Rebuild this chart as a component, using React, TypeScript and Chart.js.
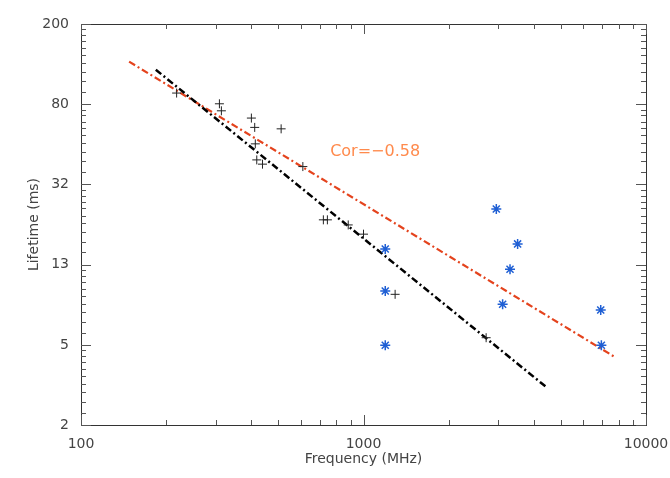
import React, { useRef, useEffect } from 'react';
import { Chart, registerables } from 'chart.js';

Chart.register(...registerables);

// axis ticks
const xTickValues = [100, 1000, 10000];
const xTickLabels = ['100', '1000', '10000'];
const yTickValues = [2, 5.02, 12.62, 31.7, 79.62, 200];
const yTickLabels = ['2', '5', '13', '32', '80', '200'];

// plus markers
const plusFreq = [218, 309, 314, 401, 412, 511, 414, 419, 439, 610, 721, 745, 883, 1000, 1294, 2717];
const plusLife = [90.5, 80, 73.8, 67.9, 61, 60, 50.5, 42, 40, 38.9, 21.1, 21.1, 19.9, 17.9, 8.97, 5.45];

// asterisk markers
const starFreq = [1194, 1194, 1194, 2952, 3512, 3301, 3108, 6914, 6950];
const starLife = [15.1, 9.32, 5.0, 23.9, 16.0, 11.96, 8.0, 7.49, 5.0];

// fitted lines (end points)
const fitAllFreq = [148, 7834];
const fitAllLife = [129.8, 4.33];
const fitPlusFreq = [184, 4426];
const fitPlusLife = [118.3, 3.1];

// annotation
const corText = 'Cor=\u22120.58';
const corFreq = 762;
const corLife = 46.1;

const FONT = 'DejaVu Sans';
const TEXT = '#444';

const toPoints = (xs: number[], ys: number[]) => xs.map((x, i) => ({ x, y: ys[i] }));

// IDL style frame: box with inward ticks on all four sides
const framePlugin = {
  id: 'frame',
  afterDraw(chart: any) {
    const { ctx, chartArea, scales } = chart;
    const { left, right, top, bottom } = chartArea;
    const x = scales.x;
    const y = scales.y;
    ctx.save();
    ctx.lineWidth = 1;
    ctx.strokeStyle = '#333';
    ctx.strokeRect(left + 0.5, top + 0.5, right - left, bottom - top);

    ctx.strokeStyle = '#555';
    const seg = (x1: number, y1: number, x2: number, y2: number) => {
      ctx.beginPath();
      ctx.moveTo(x1, y1);
      ctx.lineTo(x2, y2);
      ctx.stroke();
    };
    const xTick = (v: number, len: number) => {
      const px = Math.round(x.getPixelForValue(v)) + 0.5;
      seg(px, bottom, px, bottom - len);
      seg(px, top, px, top + len);
    };
    const yTick = (v: number, len: number) => {
      const py = Math.round(y.getPixelForValue(v)) + 0.5;
      seg(left, py, left + len, py);
      seg(right, py, right - len, py);
    };

    xTickValues.forEach((v, i) => {
      xTick(v, 10);
      if (i < xTickValues.length - 1) {
        for (let k = 2; k <= 9; k++) xTick(v * k, 5);
      }
    });
    yTickValues.forEach((v, i) => {
      yTick(v, 10);
      if (i < yTickValues.length - 1) {
        const next = yTickValues[i + 1];
        for (let k = 1; k <= 9; k++) yTick(v + ((next - v) * k) / 10, 5);
      }
    });

    ctx.fillStyle = '#ff8a4c';
    ctx.font = `16px "${FONT}"`;
    ctx.textAlign = 'left';
    ctx.textBaseline = 'middle';
    ctx.fillText(corText, x.getPixelForValue(corFreq), y.getPixelForValue(corLife));
    ctx.restore();
  },
};

const App: React.FC = () => {
  const canvasRef = useRef<HTMLCanvasElement>(null);
  const chartRef = useRef<Chart | null>(null);

  useEffect(() => {
    document.body.style.margin = '0';
    if (!canvasRef.current) return;
    if (chartRef.current) chartRef.current.destroy();

    chartRef.current = new Chart(canvasRef.current, {
      type: 'scatter',
      data: {
        datasets: [
          {
            label: 'plus',
            data: toPoints(plusFreq, plusLife),
            pointStyle: 'cross',
            pointRadius: 4.5,
            borderColor: '#222',
            backgroundColor: '#222',
            pointBorderWidth: 1,
          },
          {
            label: 'star',
            data: toPoints(starFreq, starLife),
            pointStyle: 'star',
            pointRadius: 5,
            borderColor: '#1f5fd4',
            backgroundColor: '#1f5fd4',
            pointBorderWidth: 1.5,
          },
          {
            label: 'fit plus',
            data: toPoints(fitPlusFreq, fitPlusLife),
            showLine: true,
            pointRadius: 0,
            borderColor: '#000',
            borderWidth: 2.5,
            borderDash: [7, 3, 2, 3],
          },
          {
            label: 'fit all',
            data: toPoints(fitAllFreq, fitAllLife),
            showLine: true,
            pointRadius: 0,
            borderColor: '#e4431d',
            borderWidth: 2.2,
            borderDash: [7, 3, 2, 3],
          },
        ],
      },
      options: {
        responsive: false,
        animation: false,
        layout: { padding: { top: 24, right: 24, left: 0, bottom: 0 } },
        plugins: {
          legend: { display: false },
          tooltip: { enabled: false },
        },
        scales: {
          x: {
            type: 'logarithmic',
            min: 100,
            max: 10000,
            grid: { display: false },
            border: { display: false },
            afterBuildTicks: (s: any) => {
              s.ticks = xTickValues.map((v) => ({ value: v }));
            },
            afterFit: (s: any) => {
              s.height = 53;
              s.paddingLeft = 0;
              s.paddingRight = 0;
            },
            ticks: {
              autoSkip: false,
              maxRotation: 0,
              padding: 3,
              color: TEXT,
              font: { family: FONT, size: 14 },
              callback: (_v: any, i: number) => xTickLabels[i],
            },
            title: {
              display: true,
              text: 'Frequency (MHz)',
              color: TEXT,
              font: { family: FONT, size: 14 },
              padding: { top: 0, bottom: 10 },
            },
          },
          y: {
            type: 'logarithmic',
            min: 2,
            max: 200,
            grid: { display: false },
            border: { display: false },
            afterBuildTicks: (s: any) => {
              s.ticks = yTickValues.map((v) => ({ value: v }));
            },
            afterFit: (s: any) => {
              s.width = 81;
              s.paddingTop = 0;
              s.paddingBottom = 0;
            },
            ticks: {
              autoSkip: false,
              padding: 4,
              color: TEXT,
              font: { family: FONT, size: 14 },
              callback: (_v: any, i: number) => yTickLabels[i],
            },
            title: {
              display: true,
              text: 'Lifetime (ms)',
              color: TEXT,
              font: { family: FONT, size: 14 },
              padding: { top: 26, bottom: 0 },
            },
          },
        },
      },
      plugins: [framePlugin],
    } as any);

    return () => {
      if (chartRef.current) {
        chartRef.current.destroy();
        chartRef.current = null;
      }
    };
  }, []);

  return (
    <div style={{ width: 670, height: 478, background: '#fff' }}>
      <canvas ref={canvasRef} width={670} height={478} style={{ display: 'block' }} />
    </div>
  );
};

export default App;
